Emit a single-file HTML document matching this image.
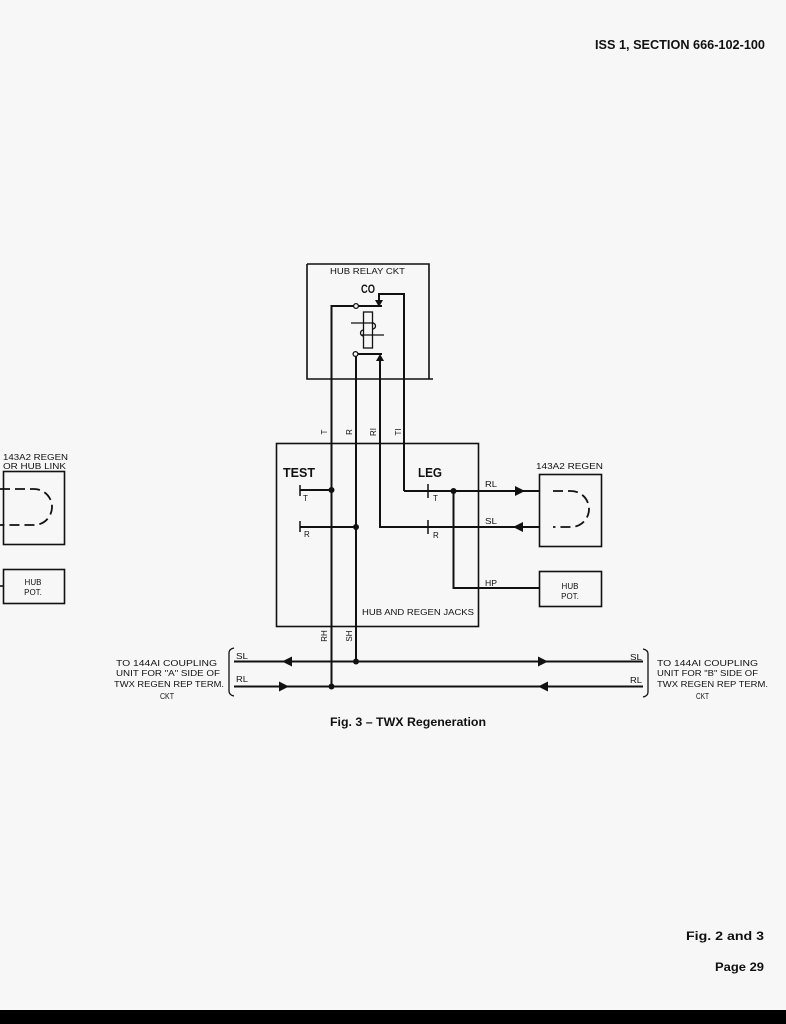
<!DOCTYPE html>
<html><head><meta charset="utf-8"><style>
html,body{margin:0;padding:0;background:#f7f7f7;}
svg{display:block;font-family:"Liberation Sans",Arial,sans-serif;}
svg text{font-family:"Liberation Sans",Arial,sans-serif;fill:#111;}
.b{font-weight:bold;}
</style></head><body>
<svg width="786" height="1024" viewBox="0 0 786 1024" xmlns="http://www.w3.org/2000/svg" font-family="Liberation Sans, Arial, sans-serif">
<rect x="0" y="0" width="786" height="1024" fill="#f7f7f7"/>

<!-- header -->
<text class="b" font-family="Liberation Sans, sans-serif" font-weight="bold" x="595" y="49" font-size="12.5" textLength="170" lengthAdjust="spacingAndGlyphs">ISS 1, SECTION 666-102-100</text>

<g stroke="#111" fill="none" stroke-width="1.6">
  <path d="M307,264 H429 V379"/>
  <path d="M307,264 V379 H433"/>
  <rect x="276.5" y="443.5" width="202" height="183"/>
  <rect x="539.5" y="474.5" width="62" height="72"/>
  <rect x="539.5" y="571.5" width="62" height="35"/>
  <rect x="3.5" y="471.5" width="61" height="73"/>
  <rect x="3.5" y="569.5" width="61" height="34"/>
  <path d="M0,586 H3.5"/>
</g>

<g stroke="#111" fill="none" stroke-width="2">
  <path d="M331.5,686.5 V306 H354"/>
  <path d="M358.5,306 H382"/>
  <path d="M404,491 V294 H379 V301"/>
  <path d="M356,661.5 V356.5"/>
  <path d="M358,354 H382"/>
  <path d="M380,359 V527 H539"/>
  <path d="M404,491 H539"/>
  <path d="M453.5,491 V588 H539"/>
  <path d="M300,490 H331.5"/>
  <path d="M300,527 H356"/>
  <path d="M234,661.5 H643"/>
  <path d="M234,686.5 H643"/>
</g>

<g stroke="#111" stroke-width="1.5">
  <path d="M300,485 V496"/>
  <path d="M300,521 V532"/>
  <path d="M428,484 V498"/>
  <path d="M428,520 V534"/>
</g>

<g stroke="#111" fill="#f7f7f7" stroke-width="1.3">
  <circle cx="356" cy="306" r="2.4"/>
  <circle cx="355.5" cy="354" r="2.4"/>
</g>
<g fill="#111">
  <polygon points="375,300 383,300 379,307"/>
  <polygon points="376,361 384,361 380,354"/>
</g>

<g stroke="#111" fill="none" stroke-width="1.3">
  <rect x="363.5" y="312" width="9" height="36"/>
  <path d="M351,323 H374"/>
  <path d="M362,335 H384"/>
  <path d="M372.5,323 A3,3 0 0 1 372.5,329"/>
  <path d="M363.5,330 A3,3 0 0 0 363.5,336"/>
</g>

<g fill="#111">
  <circle cx="331.5" cy="490" r="3"/>
  <circle cx="356" cy="527" r="3"/>
  <circle cx="453.5" cy="491" r="3"/>
  <circle cx="356" cy="661.5" r="3"/>
  <circle cx="331.5" cy="686.5" r="3"/>
</g>

<g fill="#111">
  <polygon points="515,486 515,496 525,491"/>
  <polygon points="523,522 523,532 513,527"/>
  <polygon points="292,656.5 292,666.5 282,661.5"/>
  <polygon points="279,681.5 279,691.5 289,686.5"/>
  <polygon points="538,656.5 538,666.5 548,661.5"/>
  <polygon points="548,681.5 548,691.5 538,686.5"/>
</g>

<g stroke="#111" fill="none" stroke-width="1.8" stroke-dasharray="10,5">
  <path d="M553,491 H571 A18,18 0 0 1 571,527 H553"/>
  <path d="M0,489 H34 A18,18 0 0 1 34,525 H0"/>
</g>

<g stroke="#111" fill="none" stroke-width="1.3">
  <path d="M234,648 Q229,649 229,653 V691 Q229,695 234,696"/>
  <path d="M643,649 Q648,650 648,654 V692 Q648,696 643,697"/>
</g>

<g font-family="Liberation Sans, sans-serif">
<text x="330" y="274" font-size="8" textLength="75" lengthAdjust="spacingAndGlyphs">HUB RELAY CKT</text>
<text font-weight="bold" x="361" y="293" font-size="12" textLength="14" lengthAdjust="spacingAndGlyphs">CO</text>

<text transform="translate(327,432) rotate(-90)" text-anchor="middle" font-size="8">T</text>
<text transform="translate(352,432) rotate(-90)" text-anchor="middle" font-size="8">R</text>
<text transform="translate(376,432) rotate(-90)" text-anchor="middle" font-size="8">RI</text>
<text transform="translate(401,432) rotate(-90)" text-anchor="middle" font-size="8">TI</text>
<text transform="translate(327,636) rotate(-90)" text-anchor="middle" font-size="8">RH</text>
<text transform="translate(352,636) rotate(-90)" text-anchor="middle" font-size="8">SH</text>

<text font-weight="bold" x="283" y="477" font-size="13" textLength="32" lengthAdjust="spacingAndGlyphs">TEST</text>
<text font-weight="bold" x="418" y="477" font-size="13" textLength="24" lengthAdjust="spacingAndGlyphs">LEG</text>

<g font-size="8">
  <text x="303" y="501">T</text>
  <text x="304" y="537">R</text>
  <text x="433" y="501">T</text>
  <text x="433" y="538">R</text>
  <text x="485" y="487" textLength="12" lengthAdjust="spacingAndGlyphs">RL</text>
  <text x="485" y="524" textLength="12" lengthAdjust="spacingAndGlyphs">SL</text>
  <text x="485" y="586" textLength="12" lengthAdjust="spacingAndGlyphs">HP</text>
  <text x="362" y="615" textLength="112" lengthAdjust="spacingAndGlyphs">HUB AND REGEN JACKS</text>
  <text x="536" y="469" textLength="67" lengthAdjust="spacingAndGlyphs">143A2 REGEN</text>
  <text x="570" y="589" text-anchor="middle">HUB</text>
  <text x="570" y="599" text-anchor="middle">POT.</text>
  <text x="3" y="460" textLength="65" lengthAdjust="spacingAndGlyphs">143A2 REGEN</text>
  <text x="3" y="469" textLength="63" lengthAdjust="spacingAndGlyphs">OR HUB LINK</text>
  <text x="33" y="585" text-anchor="middle">HUB</text>
  <text x="33" y="595" text-anchor="middle">POT.</text>
  <text x="236" y="659" textLength="12" lengthAdjust="spacingAndGlyphs">SL</text>
  <text x="236" y="682" textLength="12" lengthAdjust="spacingAndGlyphs">RL</text>
  <text x="630" y="660" textLength="12" lengthAdjust="spacingAndGlyphs">SL</text>
  <text x="630" y="683" textLength="12" lengthAdjust="spacingAndGlyphs">RL</text>
</g>

<g font-size="8.5">
  <text x="116" y="666" textLength="101" lengthAdjust="spacingAndGlyphs">TO 144AI COUPLING</text>
  <text x="116" y="676" textLength="104" lengthAdjust="spacingAndGlyphs">UNIT FOR "A" SIDE OF</text>
  <text x="114" y="687" textLength="110" lengthAdjust="spacingAndGlyphs">TWX REGEN REP TERM.</text>
  <text x="160" y="699" textLength="14" lengthAdjust="spacingAndGlyphs">CKT</text>
  <text x="657" y="666" textLength="101" lengthAdjust="spacingAndGlyphs">TO 144AI COUPLING</text>
  <text x="657" y="676" textLength="101" lengthAdjust="spacingAndGlyphs">UNIT FOR "B" SIDE OF</text>
  <text x="657" y="687" textLength="111" lengthAdjust="spacingAndGlyphs">TWX REGEN REP TERM.</text>
  <text x="696" y="699" textLength="13" lengthAdjust="spacingAndGlyphs">CKT</text>
</g>

<text font-weight="bold" x="330" y="726" font-size="12" textLength="156" lengthAdjust="spacingAndGlyphs">Fig. 3 – TWX Regeneration</text>

<text font-weight="bold" x="686" y="940" font-size="12" textLength="78" lengthAdjust="spacingAndGlyphs">Fig. 2 and 3</text>
<text font-weight="bold" x="715" y="971" font-size="12" textLength="49" lengthAdjust="spacingAndGlyphs">Page 29</text>
</g>

<rect x="0" y="1010" width="786" height="14" fill="#000"/>
</svg>
</body></html>
